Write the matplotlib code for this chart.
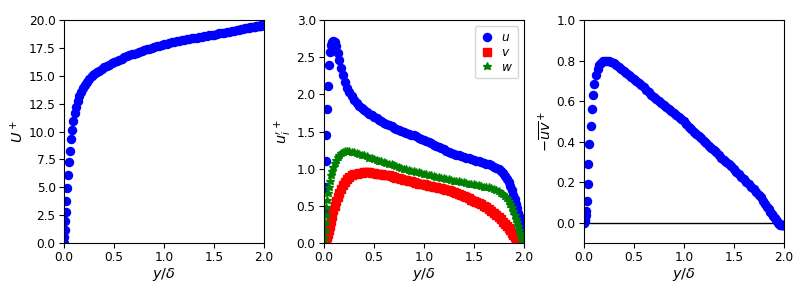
#!/usr/bin/env python3
# -*- coding: utf-8 -*-

"""
Channel flow profiles: mean velocity, rms fluctuations, Reynolds shear stress.
Values read off the reference figure.
"""

import matplotlib
matplotlib.use("Agg")
import matplotlib.pyplot as plt

# wall-normal coordinate y/delta (dense near both walls)
y = [
    0.0, 0.003, 0.0065, 0.011, 0.0155, 0.021, 0.028, 0.036, 0.045, 0.055,
    0.066, 0.078, 0.091, 0.105, 0.12, 0.136, 0.153, 0.171, 0.19, 0.21,
    0.23, 0.25, 0.275, 0.30,
    0.325, 0.35, 0.375, 0.40, 0.425, 0.45, 0.475, 0.50, 0.525, 0.55,
    0.575, 0.60, 0.625, 0.65, 0.675, 0.70, 0.725, 0.75, 0.775, 0.80,
    0.825, 0.85, 0.875, 0.90, 0.925, 0.95, 0.975, 1.00, 1.025, 1.05,
    1.075, 1.10, 1.125, 1.15, 1.175, 1.20, 1.225, 1.25, 1.275, 1.30,
    1.325, 1.35, 1.375, 1.40, 1.425, 1.45, 1.475, 1.50, 1.525, 1.55,
    1.575, 1.60, 1.625, 1.65, 1.675,
    1.70, 1.725, 1.75, 1.77, 1.79, 1.81, 1.829, 1.847, 1.864, 1.88,
    1.895, 1.909, 1.922, 1.934, 1.945, 1.955, 1.964, 1.972, 1.979, 1.985,
    1.989, 1.9935, 1.997, 2.0,
]

# mean velocity U+
U_plus = [
    0.0, 0.54, 1.17, 1.97, 2.78, 3.78, 4.95, 6.1, 7.24, 8.3,
    9.3, 10.15, 10.95, 11.65, 12.2, 12.7, 13.15, 13.55, 13.9, 14.2,
    14.45, 14.7, 14.95, 15.15,
    15.3, 15.45, 15.6, 15.75, 15.88, 16.0, 16.12, 16.25, 16.35, 16.45,
    16.55, 16.65, 16.75, 16.85, 16.92, 17.0, 17.08, 17.15, 17.22, 17.3,
    17.38, 17.45, 17.52, 17.6, 17.66, 17.72, 17.78, 17.85, 17.9, 17.95,
    18.0, 18.05, 18.1, 18.15, 18.2, 18.25, 18.28, 18.32, 18.36, 18.4,
    18.43, 18.47, 18.51, 18.55, 18.58, 18.62, 18.66, 18.7, 18.75, 18.8,
    18.84, 18.88, 18.92, 18.95, 19.0,
    19.05, 19.1, 19.15, 19.18, 19.22, 19.25, 19.28, 19.31, 19.34, 19.37,
    19.4, 19.42, 19.44, 19.46, 19.48, 19.5, 19.51, 19.52, 19.53, 19.54,
    19.55, 19.55, 19.56, 19.56,
]

# rms fluctuations u'+, v'+, w'+
u_rms = [
    0.0, 0.2, 0.45, 0.76, 1.1, 1.46, 1.81, 2.12, 2.39, 2.57,
    2.67, 2.71, 2.72, 2.70, 2.65, 2.56, 2.46, 2.36, 2.26, 2.17,
    2.09, 2.03, 1.98, 1.93,
    1.89, 1.85, 1.82, 1.79, 1.765, 1.74, 1.72, 1.70, 1.68, 1.66,
    1.64, 1.62, 1.605, 1.59, 1.57, 1.55, 1.535, 1.52, 1.51, 1.50,
    1.485, 1.47, 1.46, 1.45, 1.435, 1.42, 1.405, 1.39, 1.375, 1.36,
    1.34, 1.32, 1.305, 1.29, 1.275, 1.26, 1.245, 1.23, 1.215, 1.20,
    1.19, 1.18, 1.17, 1.16, 1.15, 1.14, 1.13, 1.12, 1.11, 1.10,
    1.09, 1.08, 1.07, 1.06, 1.045,
    1.03, 1.01, 0.99, 0.97, 0.94, 0.90, 0.86, 0.82, 0.77, 0.71,
    0.65, 0.59, 0.53, 0.47, 0.41, 0.36, 0.31, 0.26, 0.21, 0.16,
    0.12, 0.08, 0.04, 0.0,
]

v_rms = [
    0.0, 0.0, 0.01, 0.02, 0.03, 0.05, 0.08, 0.12, 0.17, 0.23,
    0.30, 0.37, 0.44, 0.50, 0.56, 0.62, 0.68, 0.73, 0.78, 0.82,
    0.86, 0.89, 0.91, 0.93,
    0.935, 0.94, 0.945, 0.95, 0.95, 0.95, 0.945, 0.94, 0.935, 0.93,
    0.925, 0.92, 0.915, 0.91, 0.90, 0.89, 0.88, 0.87, 0.86, 0.85,
    0.845, 0.84, 0.83, 0.82, 0.81, 0.80, 0.795, 0.79, 0.78, 0.77,
    0.765, 0.76, 0.75, 0.74, 0.735, 0.73, 0.72, 0.71, 0.70, 0.69,
    0.675, 0.66, 0.645, 0.63, 0.615, 0.60, 0.585, 0.57, 0.555, 0.54,
    0.52, 0.50, 0.48, 0.46, 0.435,
    0.41, 0.38, 0.35, 0.32, 0.29, 0.26, 0.23, 0.20, 0.17, 0.14,
    0.11, 0.08, 0.05, 0.03, 0.01, 0.0, 0.0, 0.0, 0.0, 0.0,
    0.0, 0.0, 0.0, 0.0,
]

w_rms = [
    0.0, 0.08, 0.17, 0.28, 0.38, 0.48, 0.58, 0.67, 0.76, 0.84,
    0.91, 0.97, 1.03, 1.08, 1.12, 1.16, 1.19, 1.21, 1.23, 1.24,
    1.24, 1.24, 1.23, 1.22,
    1.21, 1.20, 1.19, 1.18, 1.165, 1.15, 1.14, 1.13, 1.12, 1.11,
    1.10, 1.09, 1.08, 1.07, 1.06, 1.05, 1.035, 1.02, 1.01, 1.00,
    0.99, 0.98, 0.975, 0.97, 0.96, 0.95, 0.94, 0.93, 0.925, 0.92,
    0.91, 0.90, 0.895, 0.89, 0.88, 0.87, 0.865, 0.86, 0.85, 0.84,
    0.835, 0.83, 0.825, 0.82, 0.81, 0.80, 0.795, 0.79, 0.785, 0.78,
    0.77, 0.76, 0.755, 0.75, 0.74,
    0.73, 0.72, 0.70, 0.68, 0.66, 0.63, 0.60, 0.56, 0.52, 0.48,
    0.43, 0.38, 0.33, 0.28, 0.23, 0.18, 0.14, 0.10, 0.07, 0.04,
    0.02, 0.01, 0.0, 0.0,
]

# Reynolds shear stress -uv+
uv_neg = [
    0.0, 0.0, 0.01, 0.02, 0.04, 0.06, 0.11, 0.19, 0.29, 0.39,
    0.48, 0.56, 0.63, 0.685, 0.73, 0.76, 0.78, 0.79, 0.80, 0.80,
    0.80, 0.80, 0.795, 0.79,
    0.78, 0.77, 0.76, 0.75, 0.74, 0.73, 0.72, 0.71, 0.70, 0.69,
    0.68, 0.67, 0.655, 0.645, 0.632, 0.62, 0.61, 0.60, 0.59, 0.58,
    0.57, 0.56, 0.55, 0.54, 0.53, 0.52, 0.51, 0.50, 0.488, 0.475,
    0.462, 0.45, 0.44, 0.43, 0.418, 0.405, 0.392, 0.38, 0.37, 0.36,
    0.348, 0.335, 0.322, 0.31, 0.30, 0.29, 0.278, 0.265, 0.252, 0.24,
    0.228, 0.215, 0.202, 0.19, 0.178,
    0.165, 0.15, 0.135, 0.125, 0.11, 0.095, 0.08, 0.07, 0.055, 0.045,
    0.035, 0.025, 0.015, 0.01, 0.0, -0.005, -0.01, -0.01, -0.01, -0.01,
    -0.01, -0.01, -0.01, -0.01,
]

TICK_FS = 8.7
LABEL_FS = 10.4
MS = 5.8


def style_axis(ax):
    ax.set_xlim(0.0, 2.0)
    ax.set_xticks([0.0, 0.5, 1.0, 1.5, 2.0])
    ax.tick_params(labelsize=TICK_FS, pad=2.5)
    ax.set_xlabel(r"$y/\delta$", fontsize=LABEL_FS, labelpad=1.0)


def main():
    fig, axes = plt.subplots(1, 3, figsize=(8.0, 2.87), dpi=100)
    fig.subplots_adjust(left=0.08, right=0.98, bottom=0.153, top=0.930, wspace=0.3)

    # mean velocity
    ax = axes[0]
    ax.plot(y, U_plus, "bo", ms=MS)
    ax.set_ylim(0.0, 20.0)
    ax.set_yticks([0.0, 2.5, 5.0, 7.5, 10.0, 12.5, 15.0, 17.5, 20.0])
    ax.set_ylabel(r"$U^+$", fontsize=LABEL_FS, labelpad=2.0)
    style_axis(ax)

    # rms fluctuations
    ax = axes[1]
    ax.plot(y, u_rms, "bo", ms=MS, label=r"$u$")
    ax.plot(y, v_rms, "rs", ms=MS, label=r"$v$")
    ax.plot(y, w_rms, "g*", ms=MS + 0.4, label=r"$w$")
    ax.set_ylim(0.0, 3.0)
    ax.set_yticks([0.0, 0.5, 1.0, 1.5, 2.0, 2.5, 3.0])
    ax.set_ylabel(r"$u_i'^+$", fontsize=LABEL_FS, labelpad=2.0)
    ax.legend(loc="upper right", fontsize=TICK_FS, handletextpad=0.6,
              handlelength=1.2, borderpad=0.4, labelspacing=0.15,
              borderaxespad=0.5)
    style_axis(ax)

    # shear stress
    ax = axes[2]
    ax.axhline(0.0, color="k", lw=1.0, zorder=1)
    ax.plot(y, uv_neg, "bo", ms=MS, zorder=2)
    ax.set_ylim(-0.1, 1.0)
    ax.set_yticks([0.0, 0.2, 0.4, 0.6, 0.8, 1.0])
    ax.set_ylabel(r"$-\overline{uv}^+$", fontsize=LABEL_FS, labelpad=2.0)
    style_axis(ax)

    fig.savefig("out.png", dpi=100)
    plt.close(fig)


if __name__ == "__main__":
    main()
